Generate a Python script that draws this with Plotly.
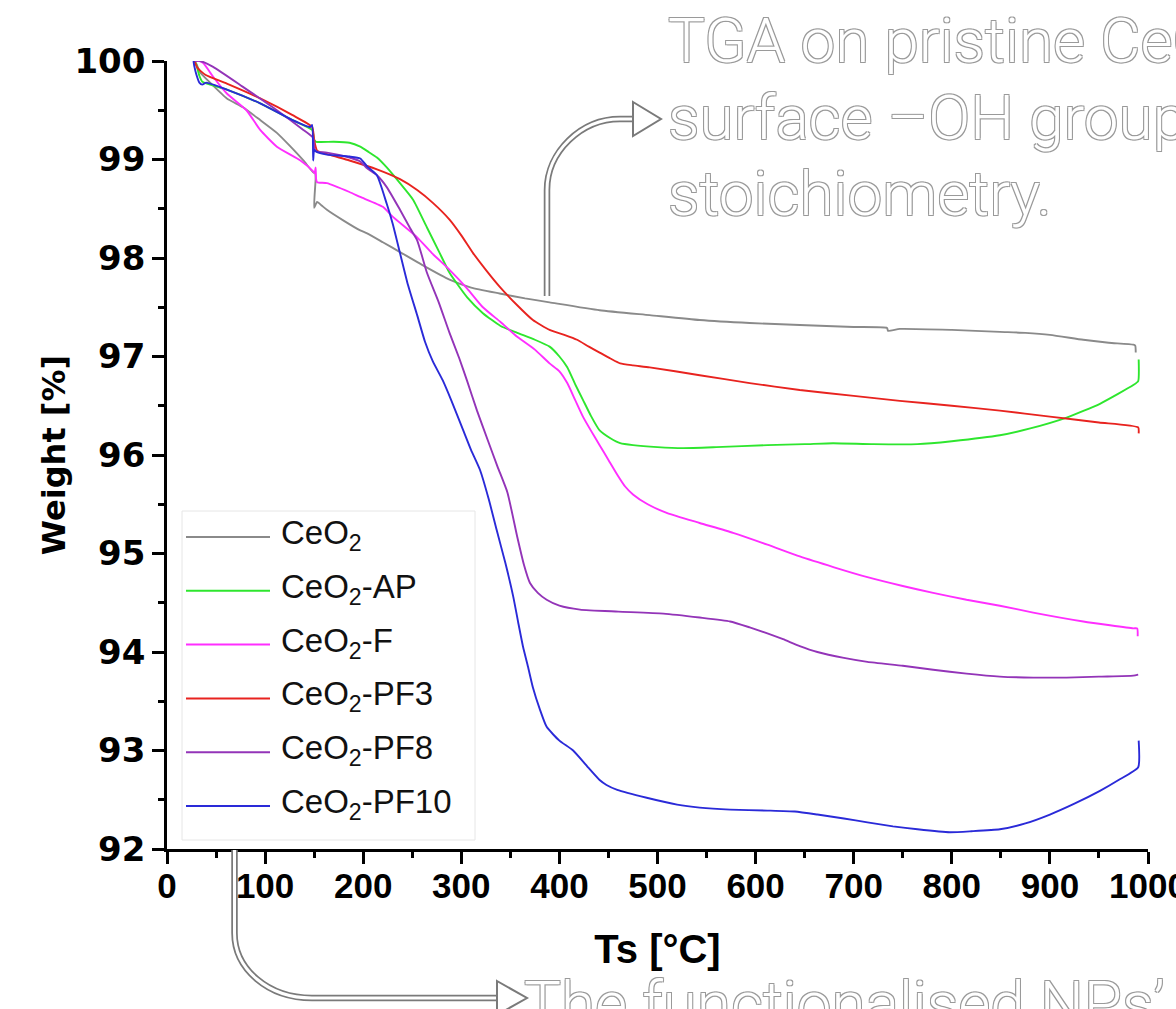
import plotly.graph_objects as go

# ---------------- data ----------------
series_names = ["CeO<sub>2</sub>", "CeO<sub>2</sub>-AP", "CeO<sub>2</sub>-F",
                "CeO<sub>2</sub>-PF3", "CeO<sub>2</sub>-PF8", "CeO<sub>2</sub>-PF10"]
series_colors = ["#8a8a8a", "#2ee62e", "#ff2eff", "#e8231f", "#9334b8", "#2a2ad8"]

ceo2_T = [28, 30, 34, 44, 61, 77.5, 95, 112, 125, 139, 149, 151, 151.5, 151, 150, 153, 158, 163,
          180, 197, 204, 220, 237.5, 260, 288, 310, 339, 365, 390, 441, 492, 543, 594, 645, 700,
          734, 735, 747, 800, 849, 875, 900, 934, 960, 985, 987, 987.5]
ceo2_W = [100, 99.97, 99.88, 99.78, 99.62, 99.53, 99.40, 99.27, 99.14, 98.99, 98.87, 98.86, 98.80,
          98.72, 98.51, 98.57, 98.53, 98.49, 98.38, 98.28, 98.25, 98.16, 98.06, 97.93, 97.78, 97.70,
          97.64, 97.59, 97.55, 97.47, 97.42, 97.37, 97.34, 97.32, 97.30, 97.29, 97.26, 97.28, 97.27,
          97.25, 97.24, 97.22, 97.17, 97.14, 97.12, 97.11, 97.04]

ap_T = [28, 30, 33, 36, 61, 95, 128, 148, 150, 152, 170, 186, 197, 205, 214, 224, 237.5, 251, 265,
        277, 288, 306, 322, 340, 357, 375, 390, 400, 408, 416, 424, 432, 441, 452, 462, 475, 500,
        526, 560, 612, 650, 679, 720, 765, 800, 849, 880, 917, 951, 985, 990, 990.5]
ap_W = [100, 99.96, 99.85, 99.79, 99.71, 99.57, 99.40, 99.30, 99.20, 99.18, 99.18, 99.17, 99.13,
        99.08, 99.02, 98.92, 98.76, 98.59, 98.31, 98.07, 97.85, 97.60, 97.44, 97.31, 97.24, 97.17,
        97.10, 97.00, 96.89, 96.72, 96.56, 96.40, 96.25, 96.17, 96.12, 96.10, 96.08, 96.07, 96.08,
        96.10, 96.11, 96.12, 96.11, 96.11, 96.14, 96.20, 96.27, 96.38, 96.52, 96.71, 96.75, 96.97]

f_T = [28, 33, 37, 47, 61, 81, 95, 112, 136, 149, 150.5, 151.5, 152, 153, 163, 186, 197, 220, 230,
       255, 270, 288, 306, 322, 340, 357, 375, 390, 400, 408, 416, 424, 432, 441, 450, 459, 467,
       475, 490, 510, 543, 577, 612, 645, 680, 714, 750, 781, 815, 849, 883, 934, 985, 989, 989.5]
f_W = [100, 100, 99.98, 99.84, 99.67, 99.50, 99.30, 99.13, 98.99, 98.88, 98.86, 98.92, 98.80,
       98.77, 98.76, 98.67, 98.62, 98.52, 98.42, 98.21, 98.05, 97.88, 97.69, 97.50, 97.35, 97.20,
       97.07, 96.93, 96.85, 96.73, 96.56, 96.39, 96.25, 96.10, 95.95, 95.80, 95.68, 95.60, 95.50,
       95.41, 95.31, 95.21, 95.09, 94.97, 94.86, 94.76, 94.67, 94.60, 94.53, 94.47, 94.40, 94.31,
       94.24, 94.24, 94.16]

pf3_T = [28, 31, 39, 61, 95, 128, 148, 150, 153, 165, 186, 214, 237.5, 255, 271, 288, 300, 312,
         325, 339, 357, 373, 390, 405, 418, 430, 441, 452, 462, 475, 492, 543, 594, 645, 700, 747,
         800, 849, 900, 950, 990, 990.5]
pf3_W = [100, 99.93, 99.86, 99.77, 99.62, 99.45, 99.33, 99.20, 99.09, 99.05, 98.99, 98.90, 98.80,
         98.69, 98.56, 98.39, 98.23, 98.05, 97.88, 97.71, 97.52, 97.37, 97.27, 97.22, 97.17, 97.10,
         97.04, 96.98, 96.93, 96.91, 96.89, 96.81, 96.73, 96.66, 96.60, 96.55, 96.50, 96.45, 96.39,
         96.33, 96.28, 96.22]

pf8_T = [28, 34, 47, 77, 112, 139, 149, 150.5, 153, 163, 186, 197, 204, 214, 224, 237.5, 248, 255,
         265, 277, 288, 298, 306, 316, 327, 337, 347, 357, 364, 370, 378, 387, 400, 421, 460, 506,
         543, 574, 594, 612, 628, 645, 663, 690, 714, 750, 781, 815, 849, 883, 917, 950, 985, 990]
pf8_W = [100, 100, 99.94, 99.74, 99.50, 99.30, 99.22, 99.10, 99.08, 99.07, 99.02, 98.98, 98.91,
         98.84, 98.72, 98.49, 98.30, 98.18, 97.85, 97.55, 97.24, 96.98, 96.75, 96.45, 96.15, 95.88,
         95.62, 95.17, 94.88, 94.70, 94.60, 94.53, 94.47, 94.43, 94.41, 94.39, 94.35, 94.31, 94.25,
         94.19, 94.13, 94.06, 94.00, 93.94, 93.90, 93.86, 93.82, 93.78, 93.75, 93.74, 93.74, 93.75,
         93.76, 93.77]

pf10_T = [27, 28, 30, 33, 36, 40, 61, 95, 128, 146, 148, 149, 150, 152, 163, 186, 197, 204, 214,
          224, 230, 237.5, 245, 255, 263, 271, 281, 290, 302, 310, 319, 328, 336, 345, 353, 358, 363,
          368, 373, 380, 387, 400, 414, 430, 441, 448, 459, 489, 520, 543, 574, 612, 640, 663, 690,
          714, 740, 765, 798, 820, 849, 875, 900, 925, 951, 970, 990, 990.5]
pf10_W = [100, 99.94, 99.86, 99.78, 99.76, 99.78, 99.71, 99.57, 99.40, 99.33, 99.35, 98.99, 99.10,
          99.08, 99.05, 99.03, 99.01, 98.93, 98.84, 98.55, 98.35, 98.05, 97.75, 97.42, 97.15, 96.95,
          96.76, 96.55, 96.25, 96.05, 95.85, 95.55, 95.24, 94.90, 94.56, 94.30, 94.05, 93.85, 93.64,
          93.42, 93.24, 93.10, 93.00, 92.82, 92.70, 92.65, 92.60, 92.52, 92.45, 92.42, 92.40, 92.39,
          92.38, 92.35, 92.31, 92.27, 92.23, 92.20, 92.17, 92.18, 92.20, 92.26, 92.35, 92.46, 92.59,
          92.70, 92.83, 93.10]

series_T = [ceo2_T, ap_T, f_T, pf3_T, pf8_T, pf10_T]
series_W = [ceo2_W, ap_W, f_W, pf3_W, pf8_W, pf10_W]

x_range = [0, 1000]
y_range = [92, 100]
x_title = "Ts [°C]"
y_title = "Weight [%]"

note_top_lines = ["TGA on pristine CeO<sub>2</sub>", "surface –OH groups", "stoichiometry."]
note_bottom = "The functionalised NPs’"

# ---------------- layout geometry (pixels) ----------------
FIG_W, FIG_H = 1176, 1009
M_L, M_R, M_T, M_B = 167, 28, 61, 160
PW = FIG_W - M_L - M_R
PH = FIG_H - M_T - M_B


def px(x):
    return (x - M_L) / PW


def py(y):
    return (FIG_H - M_B - y) / PH


fig = go.Figure()
for name, col, T, W in zip(series_names, series_colors, series_T, series_W):
    fig.add_trace(go.Scatter(x=T, y=W, mode="lines", name=name,
                             line=dict(color=col, width=1.9, shape="spline", smoothing=0.5),
                             showlegend=False))

shapes = []
annotations = []

# ---- manual legend (long line samples as in the original) ----
shapes.append(dict(type="rect", xref="paper", yref="paper",
                   x0=px(182), x1=px(475), y0=py(840), y1=py(511),
                   line=dict(color="#e6e6e6", width=1), fillcolor="rgba(255,255,255,0)",
                   layer="below"))
leg_y0, leg_dy = 537, 53.8
for i, (name, col) in enumerate(zip(series_names, series_colors)):
    yy = leg_y0 + i * leg_dy
    shapes.append(dict(type="line", xref="paper", yref="paper",
                       x0=px(186), x1=px(270), y0=py(yy), y1=py(yy),
                       line=dict(color=col, width=2)))
    annotations.append(dict(xref="paper", yref="paper", x=px(279), y=py(yy - 2),
                            xanchor="left", yanchor="middle", showarrow=False, text=name,
                            font=dict(family="Liberation Sans, Arial", size=33, color="#111")))


# ---- hollow double-line arrows ----
def hollow_arrow(path_px, head_px):
    path = " ".join(
        f"{c} " + " ".join(f"{px(a):.5f},{py(b):.5f}" for a, b in pts) for c, pts in path_px)
    shapes.append(dict(type="path", xref="paper", yref="paper", path=path,
                       line=dict(color="#7a7a7a", width=6.5), layer="above"))
    shapes.append(dict(type="path", xref="paper", yref="paper", path=path,
                       line=dict(color="white", width=3), layer="above"))
    hp = "M " + " L ".join(f"{px(a):.5f},{py(b):.5f}" for a, b in head_px) + " Z"
    shapes.append(dict(type="path", xref="paper", yref="paper", path=hp,
                       line=dict(color="#7a7a7a", width=2), fillcolor="white", layer="above"))


hollow_arrow([("M", [(547, 296)]), ("L", [(547, 190)]),
              ("C", [(547, 152), (581, 119), (620, 119)]), ("L", [(634, 119)])],
             [(633, 102), (661, 119), (633, 136)])
hollow_arrow([("M", [(234.5, 850)]), ("L", [(234.5, 933)]),
              ("C", [(234.5, 969), (268, 998), (312, 998)]), ("L", [(498, 998)])],
             [(497, 981), (527, 998), (497, 1015)])

outline = "#9a9a9a"
shadow = (f"-1px -1px 0 {outline}, 1px -1px 0 {outline}, -1px 1px 0 {outline}, "
          f"1px 1px 0 {outline}")
note_font = dict(family="Roboto, Noto Sans", size=62, weight=300, color="white", shadow=shadow)
for line_text, top_px in zip(note_top_lines, [2, 78.5, 155]):
    annotations.append(dict(xref="paper", yref="paper", x=px(666), y=py(top_px),
                            xanchor="left", yanchor="top", align="left", showarrow=False,
                            text=line_text, font=note_font))
annotations.append(dict(xref="paper", yref="paper", x=px(522), y=py(965), xanchor="left",
                        yanchor="top", align="left", showarrow=False, text=note_bottom,
                        font=note_font))

axis_common = dict(showline=True, linecolor="black", linewidth=2.5, mirror=False,
                   showgrid=False, zeroline=False, ticks="outside", tickcolor="black",
                   tickwidth=2.5, ticklen=12, automargin=False, ticklabeloverflow="allow")

fig.update_layout(
    width=FIG_W, height=FIG_H,
    margin=dict(l=M_L, r=M_R, t=M_T, b=M_B, pad=0),
    paper_bgcolor="white", plot_bgcolor="white",
    template="none",
    shapes=shapes, annotations=annotations,
    xaxis=dict(range=x_range, tick0=0, dtick=100, ticklabelstandoff=-8,
               minor=dict(dtick=50, ticks="outside", ticklen=6, tickwidth=2.5,
                          tickcolor="black", showgrid=False),
               tickfont=dict(family="Liberation Sans, Arial", size=35, weight="bold",
                             color="black"),
               title=dict(text=x_title, standoff=32,
                          font=dict(family="Liberation Sans, Arial", size=40, weight="bold",
                                    color="black")),
               **axis_common),
    yaxis=dict(range=y_range, tick0=92, dtick=1,
               minor=dict(dtick=0.5, ticks="outside", ticklen=6, tickwidth=2.5,
                          tickcolor="black", showgrid=False),
               tickfont=dict(family="DejaVu Sans, Liberation Sans", size=34, weight="bold",
                             color="black"),
               title=dict(text=y_title, standoff=0,
                          font=dict(family="DejaVu Sans, Liberation Sans", size=32,
                                    weight="bold", color="black")),
               **axis_common),
)

fig.write_html("out.html")
